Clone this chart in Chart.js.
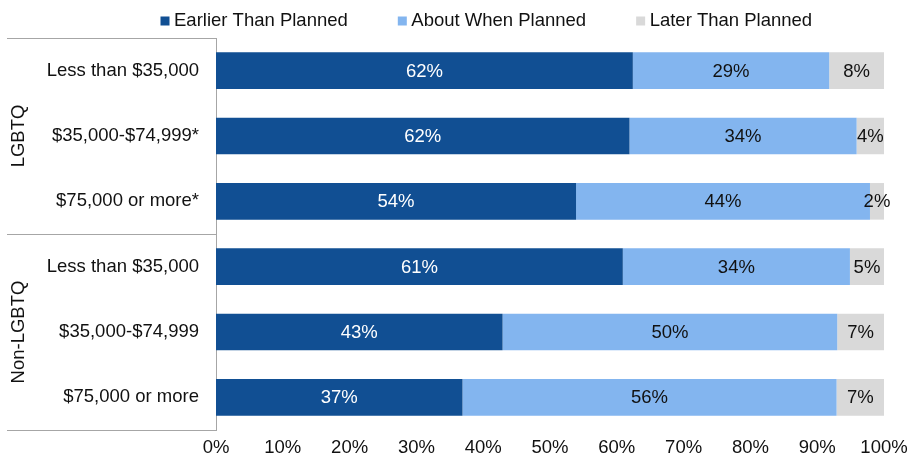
<!DOCTYPE html>
<html>
<head>
<meta charset="utf-8">
<script src="https://cdn.jsdelivr.net/npm/chart.js@4/dist/chart.umd.min.js"></script>
<style>
  body { margin: 0; background: #fff; }
  #wrap { width: 908px; height: 464px; position: relative; }
</style>
</head>
<body>
<div id="wrap"><canvas id="graph"></canvas></div>
<script>
// data (percent of respondents)
const categories = ['Less than $35,000', '$35,000-$74,999*', '$75,000 or more*',
                    'Less than $35,000', '$35,000-$74,999', '$75,000 or more'];
const groups = ['LGBTQ', 'Non-LGBTQ'];
const groupSizes = [3, 3];
const seriesNames = ['Earlier Than Planned', 'About When Planned', 'Later Than Planned'];
const earlier = [62.4, 61.9, 53.9, 60.9, 42.9, 36.9];
const about   = [29.4, 34.0, 44.0, 34.0, 50.1, 56.0];
const later   = [8.2, 4.1, 2.1, 5.1, 7.0, 7.1];
const xTicks  = [0, 10, 20, 30, 40, 50, 60, 70, 80, 90, 100];

const colors = ['#114f93', '#83b5ef', '#d9d9d9'];
const labelColors = ['#ffffff', '#111111', '#111111'];
const FONT = "'Liberation Sans', Arial, sans-serif";
const FS = 18.5;
const lineColor = '#a6a6a6';

// value labels in the middle of each segment
const barLabels = {
  id: 'barLabels',
  afterDatasetsDraw(chart) {
    const ctx = chart.ctx;
    ctx.save();
    ctx.font = FS + 'px ' + FONT;
    ctx.textAlign = 'center';
    ctx.textBaseline = 'middle';
    chart.data.datasets.forEach((ds, di) => {
      chart.getDatasetMeta(di).data.forEach((el, i) => {
        ctx.fillStyle = labelColors[di];
        ctx.fillText(Math.round(ds.data[i]) + '%', (el.x + el.base) / 2, el.y + 1);
      });
    });
    ctx.restore();
  }
};

// legend row on top
const topLegend = {
  id: 'topLegend',
  afterDraw(chart) {
    const ctx = chart.ctx;
    ctx.save();
    ctx.font = FS + 'px ' + FONT;
    ctx.textBaseline = 'middle';
    let x = 160.5;
    chart.data.datasets.forEach((ds) => {
      ctx.fillStyle = ds.backgroundColor;
      ctx.fillRect(x, 16.5, 9, 9);
      ctx.fillStyle = '#111';
      ctx.fillText(ds.label, x + 13.5, 21);
      x += 13.5 + ctx.measureText(ds.label).width + 50;
    });
    ctx.restore();
  }
};

// group box lines and rotated group names
const groupBox = {
  id: 'groupBox',
  afterDraw(chart) {
    const ctx = chart.ctx;
    const y = chart.scales.y;
    const area = chart.chartArea;
    const half = (y.getPixelForValue(1) - y.getPixelForValue(0)) / 2;
    ctx.save();
    ctx.strokeStyle = lineColor;
    ctx.lineWidth = 1;
    let start = 0;
    const edges = [area.top];
    groups.forEach((g, gi) => {
      const end = start + groupSizes[gi] - 1;
      const top = y.getPixelForValue(start) - half;
      const bot = y.getPixelForValue(end) + half;
      edges.push(bot);
      ctx.save();
      ctx.translate(18.5, (top + bot) / 2);
      ctx.rotate(-Math.PI / 2);
      ctx.font = FS + 'px ' + FONT;
      ctx.fillStyle = '#111';
      ctx.textAlign = 'center';
      ctx.textBaseline = 'middle';
      ctx.fillText(g, 0, 0);
      ctx.restore();
      start = end + 1;
    });
    edges.forEach((e) => {
      const py = Math.round(e) + 0.5;
      ctx.beginPath();
      ctx.moveTo(7, py);
      ctx.lineTo(area.left, py);
      ctx.stroke();
    });
    ctx.restore();
  }
};

const data = {
  labels: categories,
  datasets: [
    { label: seriesNames[0], data: earlier, backgroundColor: colors[0] },
    { label: seriesNames[1], data: about, backgroundColor: colors[1] },
    { label: seriesNames[2], data: later, backgroundColor: colors[2] }
  ]
};

const config = {
  type: 'bar',
  data: data,
  options: {
    indexAxis: 'y',
    responsive: true,
    maintainAspectRatio: false,
    animation: false,
    layout: { padding: { top: 38, bottom: 2, left: 0, right: 0 } },
    datasets: { bar: { barPercentage: 0.56, categoryPercentage: 1, borderWidth: 0 } },
    plugins: {
      legend: { display: false },
      tooltip: { enabled: false }
    },
    scales: {
      x: {
        stacked: true,
        min: 0,
        max: 100,
        afterBuildTicks: (s) => { s.ticks = xTicks.map(v => ({ value: v })); },
        afterFit: (s) => { s.height = 32; s.paddingRight = 24; },
        ticks: {
          callback: (v) => v + '%',
          color: '#111',
          padding: 7,
          maxRotation: 0,
          font: { family: FONT, size: FS }
        },
        grid: { display: false, drawTicks: false },
        border: { display: false }
      },
      y: {
        stacked: true,
        afterFit: (s) => { s.width = 216; },
        ticks: {
          color: '#111',
          padding: 17,
          font: { family: FONT, size: FS }
        },
        grid: { display: false, drawTicks: false },
        border: { display: true, color: lineColor, width: 1 }
      }
    }
  },
  plugins: [barLabels, topLegend, groupBox]
};

const graph = document.querySelector('#graph');
new Chart(graph, config);
</script>
</body>
</html>
